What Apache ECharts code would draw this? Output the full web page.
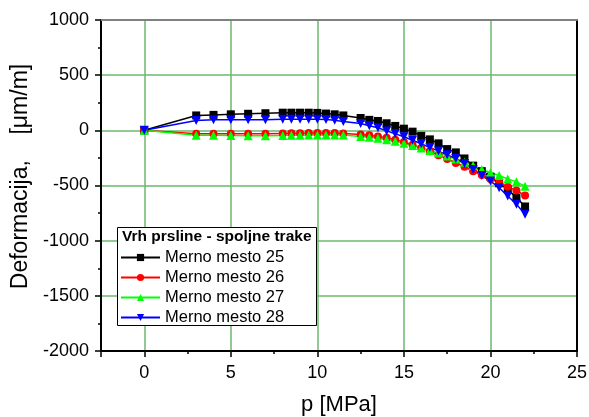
<!DOCTYPE html>
<html>
<head>
<meta charset="utf-8">
<script src="https://cdn.jsdelivr.net/npm/echarts@6/dist/echarts.min.js"></script>
<style>
html,body{margin:0;padding:0;background:#fff;}
#chart{width:589px;height:417px;}
</style>
</head>
<body>
<div id="chart"></div>
<script>
const pressure = [0,3,4,5,6,7,8,8.5,9,9.5,10,10.5,11,11.5,12.5,13,13.5,14,14.5,15,15.5,16,16.5,17,17.5,18,18.5,19,19.5,20,20.5,21,21.5,22];
const mm25 = [0,135,140,145,150,155,160,160,160,160,158,152,145,135,112,95,85,64,40,15,-12,-50,-82,-118,-170,-200,-255,-320,-370,-420,-480,-535,-610,-690];
const mm26 = [0,-30,-30,-30,-30,-30,-28,-27,-26,-25,-25,-25,-25,-28,-38,-45,-55,-68,-85,-105,-130,-160,-190,-225,-260,-295,-330,-370,-405,-440,-476,-512,-545,-591];
const mm27 = [0,-45,-45,-47,-48,-48,-47,-45,-44,-43,-42,-42,-42,-43,-55,-62,-72,-85,-100,-118,-138,-160,-182,-205,-232,-260,-290,-318,-355,-385,-409,-440,-467,-506];
const mm28 = [0,90,95,95,95,97,100,100,100,100,100,98,92,80,62,42,24,-5,-32,-58,-90,-122,-155,-188,-222,-255,-300,-355,-410,-460,-520,-595,-670,-760];
const seriesNames = ['Merno mesto 25','Merno mesto 26','Merno mesto 27','Merno mesto 28'];
const legendTitle = 'Vrh prsline - spoljne trake';
const xTitle = 'p [MPa]';
const yTitle = 'Deformacija,    [\u03bcm/m]';

const FONT = 'Liberation Sans, Arial, sans-serif';
const GRID_GREEN = '#6cb86c';

function pairs(ys){ return pressure.map((x,i)=>[x, ys[i]]); }

const chart = echarts.init(document.getElementById('chart'), null, {renderer:'canvas'});
const mk = (name, ys, color, symbol, size) => ({
  name, type:'line', data: pairs(ys), xAxisIndex:0, yAxisIndex:0,
  symbol, symbolSize:size, showAllSymbol:true,
  lineStyle:{color, width:1.5}, itemStyle:{color, borderWidth:0},
  animation:false
});

chart.setOption({
  animation:false,
  backgroundColor:'#fff',
  grid:{left:101, right:12, top:20, bottom:66, containLabel:false, outerBoundsMode:'none'},
  xAxis:[
    {type:'value', min:-2.5, max:25, position:'bottom',
     name:xTitle, nameLocation:'middle', nameGap:43,
     nameTextStyle:{fontFamily:FONT, fontSize:22, color:'#000'},
     axisLine:{show:true, onZero:false, lineStyle:{color:'#000', width:2}},
     axisTick:{show:true, inside:false, length:6, lineStyle:{color:'#000', width:1.5}},
     axisLabel:{fontFamily:FONT, fontSize:18, color:'#000', margin:13,
       formatter:v => (Math.abs(v % 5) < 1e-9 ? String(v) : '')},
     splitLine:{show:true, lineStyle:{color:GRID_GREEN, width:1.5}},
     minorTick:{show:false}},
    {type:'value', min:-2.5, max:25, interval:2.5, position:'bottom',
     axisLine:{show:false, onZero:false},
     axisTick:{show:true, inside:false, length:3, lineStyle:{color:'#000', width:1.5}},
     axisLabel:{show:false}, splitLine:{show:false}},
    {type:'value', min:-2.5, max:25, position:'top',
     axisLine:{show:true, onZero:false, lineStyle:{color:'#808080', width:2}},
     axisTick:{show:false}, axisLabel:{show:false}, splitLine:{show:false}}
  ],
  yAxis:[
    {type:'value', min:-2000, max:1000, interval:500, position:'left',
     name:yTitle, nameLocation:'middle', nameGap:67, nameRotate:90,
     nameTextStyle:{fontFamily:FONT, fontSize:23, color:'#000', padding:[0,0,0,18]},
     axisLine:{show:true, onZero:false, lineStyle:{color:'#000', width:2}},
     axisTick:{show:true, inside:false, length:6, lineStyle:{color:'#000', width:1.5}},
     minorTick:{show:true, splitNumber:2, length:3, lineStyle:{color:'#000', width:1.5}},
     axisLabel:{fontFamily:FONT, fontSize:18, color:'#000', margin:12, formatter:v => String(v)},
     splitLine:{show:true, lineStyle:{color:GRID_GREEN, width:1.5}}},
    {type:'value', min:-2000, max:1000, interval:500, position:'right',
     axisLine:{show:true, onZero:false, lineStyle:{color:'#000', width:2}},
     axisTick:{show:false}, axisLabel:{show:false}, splitLine:{show:false}}
  ],
  legend:{
    show:true, orient:'vertical', left:120, top:249, z:6,
    itemWidth:39, itemHeight:9, itemGap:3,
    textStyle:{fontFamily:FONT, fontSize:16.5, color:'#000', lineHeight:17},
    data:seriesNames, padding:0, selectedMode:false
  },
  graphic:[
    {type:'rect', z:5, shape:{x:117.5, y:227.5, width:199, height:98},
     style:{fill:'#fff', stroke:'#000', lineWidth:1}},
    {type:'text', z:7, x:122, y:237, style:{text:legendTitle, fontFamily:FONT, fontSize:15.5, fontWeight:'bold', fill:'#000', verticalAlign:'middle'}}
  ],
  series:[
    mk(seriesNames[0], mm25, '#000000', 'rect', 8),
    mk(seriesNames[1], mm26, '#ff0000', 'circle', 8),
    mk(seriesNames[2], mm27, '#00ff00', 'triangle', 9),
    Object.assign(mk(seriesNames[3], mm28, '#0000ff', 'triangle', 9), {symbolRotate:180})
  ]
});
</script>
</body>
</html>
